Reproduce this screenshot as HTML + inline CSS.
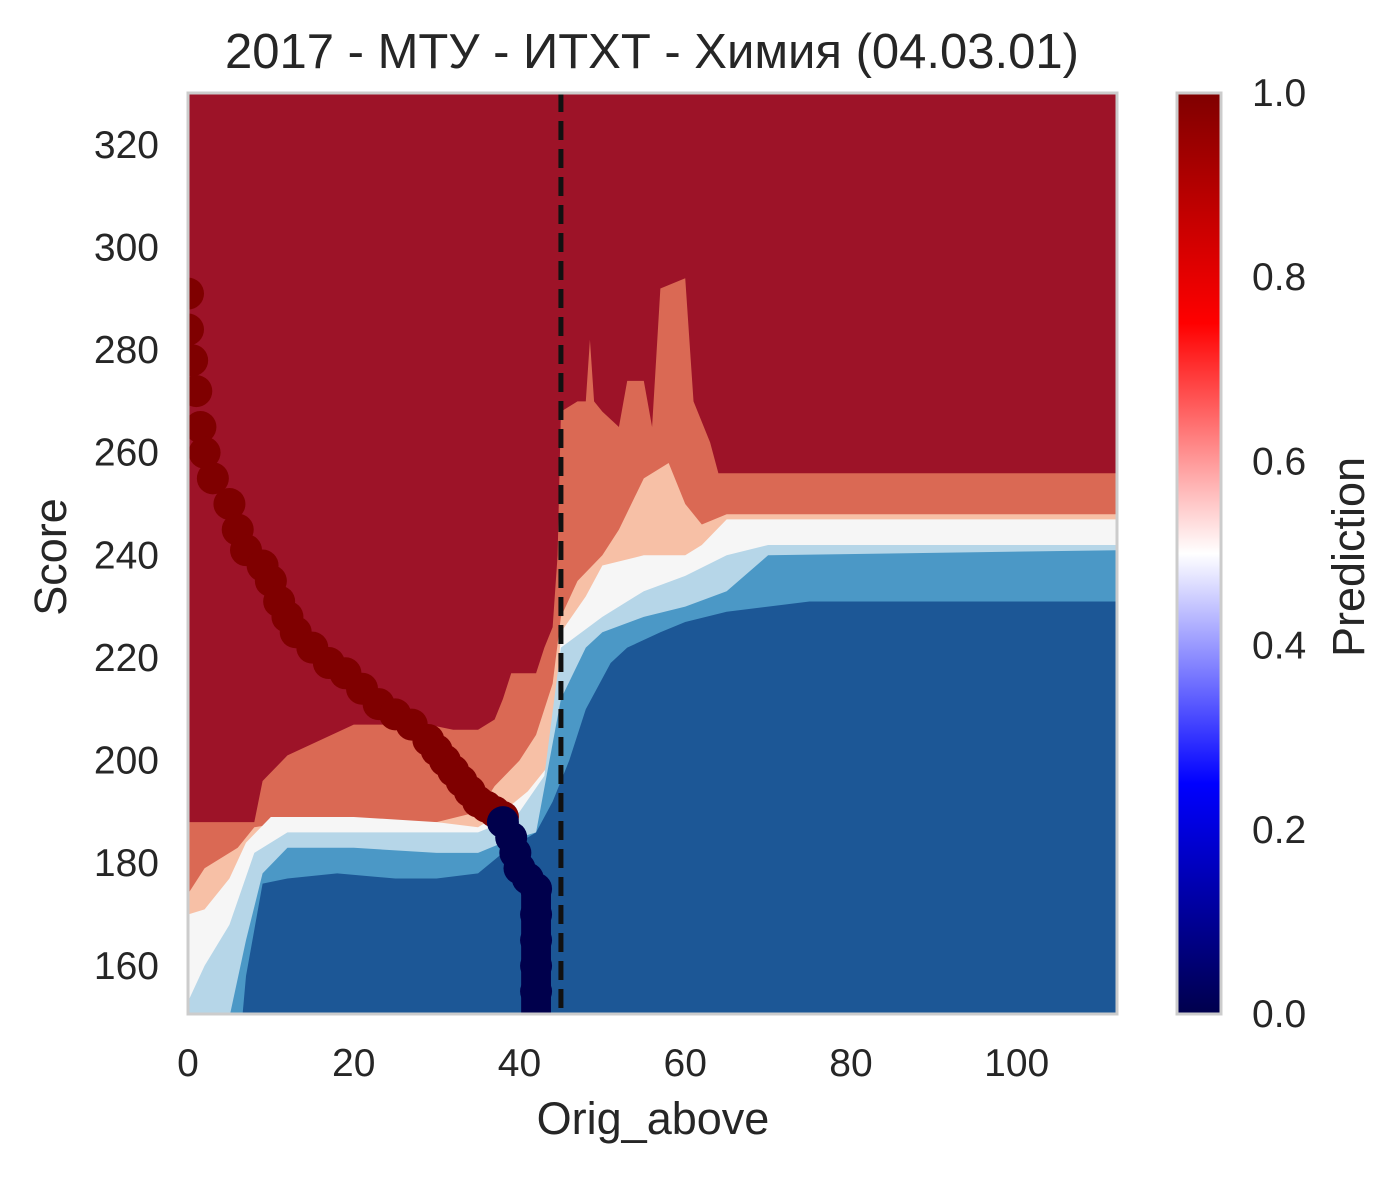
<!DOCTYPE html>
<html><head><meta charset="utf-8">
<style>
body{margin:0;background:#fff;}
svg text{font-family:"Liberation Sans","DejaVu Sans",sans-serif;fill:#262626;}
</style></head>
<body>
<svg id="chart" width="1399" height="1173" viewBox="0 0 1399 1173" xmlns="http://www.w3.org/2000/svg">
<defs>
<clipPath id="plotclip"><rect x="188" y="93" width="929" height="921"/></clipPath>
<linearGradient id="seis" x1="0" y1="1" x2="0" y2="0">
<stop offset="0" stop-color="#00004c"/><stop offset="0.25" stop-color="#0000ff"/>
<stop offset="0.5" stop-color="#ffffff"/><stop offset="0.75" stop-color="#ff0000"/>
<stop offset="1" stop-color="#7f0000"/>
</linearGradient>
</defs>
<text x="652" y="68" font-size="49" text-anchor="middle">2017 - МТУ - ИТХТ - Химия (04.03.01)</text>
<g id="plot" clip-path="url(#plotclip)"></g>
<g id="axes"></g>
<rect x="188" y="93" width="929" height="921" fill="none" stroke="#cccccc" stroke-width="3"/>
<text x="653" y="1134" font-size="45" text-anchor="middle">Orig_above</text>
<text transform="translate(66,557) rotate(-90)" font-size="45" text-anchor="middle">Score</text>
<rect x="1177" y="93" width="44" height="921" fill="url(#seis)" stroke="#cccccc" stroke-width="3"/>
<g id="cbticks"></g>
<text transform="translate(1364,557) rotate(-90)" font-size="45" text-anchor="middle">Prediction</text>
</svg>
<script>
const xTicks=[0,20,40,60,80,100];
const yTicks=[160,180,200,220,240,260,280,300,320];
const cbTicks=["0.0","0.2","0.4","0.6","0.8","1.0"];
const levelColors=["#9d1328","#da6954","#f7c0a6","#f6f6f6","#b6d6e8","#4b98c6","#1c5796"];
const b1x=[0,8,9,12,16,20,29,32,35,37,38,39,42,43,44,44.6,45,47,48,48.5,49,50,52,53,55,56,57,60,61,63,64,112.5];
const b1y=[188,188,196,201,204,207,207,206,206,208,212,217,217,222,226,240,268,270,270,282,270,268,265,274,274,265,292,294,270,262,256,256];
const b2x=[0,2,6,8,12,20,30,35,37,40,42,44,45,47,50,52,55,58,60,62,65,112.5];
const b2y=[174,179,183,187,188,188,188,190,195,200,205,215,228,235,240,245,255,258,250,246,248,248];
const b3x=[0,2,5,7,10,20,30,35,38,41,44,45,48,50,55,60,62,65,112.5];
const b3y=[170,171,177,184,189,189,188,187,190,194,200,225,232,238,240,240,242,247,247];
const b4x=[0,2,5,8,12,30,35,38,40,43,45,50,55,60,65,70,112.5];
const b4y=[153,160,168,182,186,186,186,188,190,197,222,228,233,236,240,242,242];
const b5x=[0,5,7,9,12,20,30,35,38,42,45,48,50,55,60,65,70,112.5];
const b5y=[150,150,165,178,183,183,182,182,184,186,212,222,225,228,230,233,240,241];
const b6x=[0,6,7,9,12,18,25,30,35,38,42,44,46,48,51,53,57,60,65,70,75,90,112.5];
const b6y=[140,140,158,176,177,178,177,177,178,182,186,192,200,210,219,222,225,227,229,230,231,231,231];
const redX=[0,0,0.5,1,1.5,2,3,5,6,7,9,10,11,12,13,15,17,19,21,23,25,27,29,30,31,32,33,34,35,36,37,38];
const redY=[291,284,278,272,265,260,255,250,245,241,238,235,231,228,225,222,219,217,214,211,209,207,204,202,200,198,196,194,192,191,190,189];
const blueX=[38,39,39.5,40,41,42,42,42,42,42];
const blueY=[188,185,182,179,177,175,170,165,160,155];
const barX0=40.2, barX1=43.8, barTop=175;
const cutoffX=45;
const X=v=>188+(v-0)*(929/112.1);
const Y=v=>1014-(v-150.6)*(921/179.5);
const NS="http://www.w3.org/2000/svg";
const plot=document.getElementById('plot');
function mk(tag,attrs,parent){const e=document.createElementNS(NS,tag);for(const k in attrs)e.setAttribute(k,attrs[k]);parent.appendChild(e);return e;}
let bg=mk('rect',{x:188,y:93,width:929,height:921,fill:levelColors[0]},plot);


const bounds=[[b1x,b1y],[b2x,b2y],[b3x,b3y],[b4x,b4y],[b5x,b5y],[b6x,b6y]];
bounds.forEach((b,i)=>{
  let d='M'+X(b[0][0])+','+Y(b[1][0]);
  for(let j=1;j<b[0].length;j++)d+=' L'+X(b[0][j])+','+Y(b[1][j]);
  d+=' L'+X(b[0][b[0].length-1])+',1030 L'+X(b[0][0])+',1030 Z';
  const p=mk('path',{d:d,fill:levelColors[i+1]},plot);
  
  
});
const bar=mk('rect',{x:X(barX0),y:Y(barTop),width:X(barX1)-X(barX0),height:1030-Y(barTop),fill:'#00004c'},plot);


redX.forEach((v,i)=>{const c=mk('circle',{cx:X(v),cy:Y(redY[i]),r:16,fill:'#7f0000'},plot);

});
blueX.forEach((v,i)=>{const c=mk('circle',{cx:X(v),cy:Y(blueY[i]),r:16,fill:'#00004c'},plot);

});
const dl=mk('line',{x1:X(cutoffX),x2:X(cutoffX),y1:93,y2:1014,stroke:'#111','stroke-width':5,'stroke-dasharray':'19,9'},plot);


const axes=document.getElementById('axes');
xTicks.forEach(t=>{const e=mk('text',{x:X(t),y:1076,'font-size':39,'text-anchor':'middle'},axes);e.textContent=t;

});
yTicks.forEach(t=>{const e=mk('text',{x:159,y:Y(t)+13,'font-size':39,'text-anchor':'end'},axes);e.textContent=t;

});
const cbg=document.getElementById('cbticks');
cbTicks.forEach((t,i)=>{const e=mk('text',{x:1252,y:1014-i*921/5+13,'font-size':39},cbg);e.textContent=t;

});
</script>
</body></html>
